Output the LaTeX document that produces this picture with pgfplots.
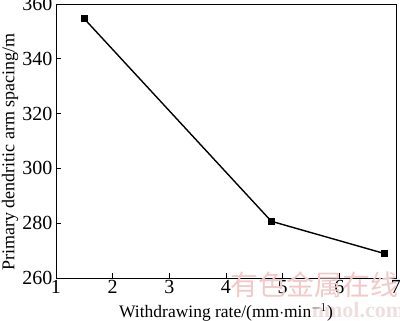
\documentclass[border=0pt]{standalone}
\usepackage{pgfplots}
\pgfplotsset{compat=1.18}
\usepackage{fontspec}
\setmainfont{Liberation Serif}
\newfontfamily\cjk{Noto Sans CJK SC}
\definecolor{wm}{RGB}{242,200,200}
\definecolor{wm2}{RGB}{238,222,222}
\begin{document}
\begin{tikzpicture}
\path[use as bounding box] (-56pt,-43pt) rectangle (344pt,278pt);
\begin{axis}[
  at={(0,0)}, anchor=origin,
  scale only axis, width=340pt, height=274pt,
  xmin=1, xmax=7, ymin=260, ymax=360,
  xtick={1,2,3,4,5,6,7}, ytick={260,280,300,320,340,360},
  xtick pos=bottom, ytick pos=left, tick align=inside,
  major tick length=5pt,
  /pgf/number format/assume math mode=true,
  ticklabel style={font=\fontsize{20}{22}\selectfont},
  xticklabel style={yshift=1pt},
  xlabel={Withdrawing rate/(mm$\cdot$min$^{-1}$)},
  xlabel style={font=\fontsize{17.5}{20}\selectfont, at={(0.5,0)}, anchor=north, yshift=-22pt},
  axis line style={line width=0.9pt},
  every tick/.style={line width=0.8pt, black},
  clip=false,
]
\node[text=wm2, font=\fontsize{22}{22}\selectfont\bfseries, anchor=center] at (axis cs:6.33,248.2) {nmol.com};
\node[text=wm, font=\cjk\fontsize{28}{28}\selectfont, anchor=center] at (axis cs:5.56,257.6) {有色金属在线};
\node[rotate=90, anchor=center, font=\fontsize{18}{20}\selectfont, inner sep=0pt] at ([xshift=-46pt]axis description cs:0,0.46) {Primary dendritic arm spacing/m};
\addplot[black, line width=1.4pt, mark=square*, mark size=2.6pt, mark options={solid}]
  coordinates {(1.5,354.6) (4.8,280.7) (6.8,268.9)};
\end{axis}
\end{tikzpicture}
\end{document}
